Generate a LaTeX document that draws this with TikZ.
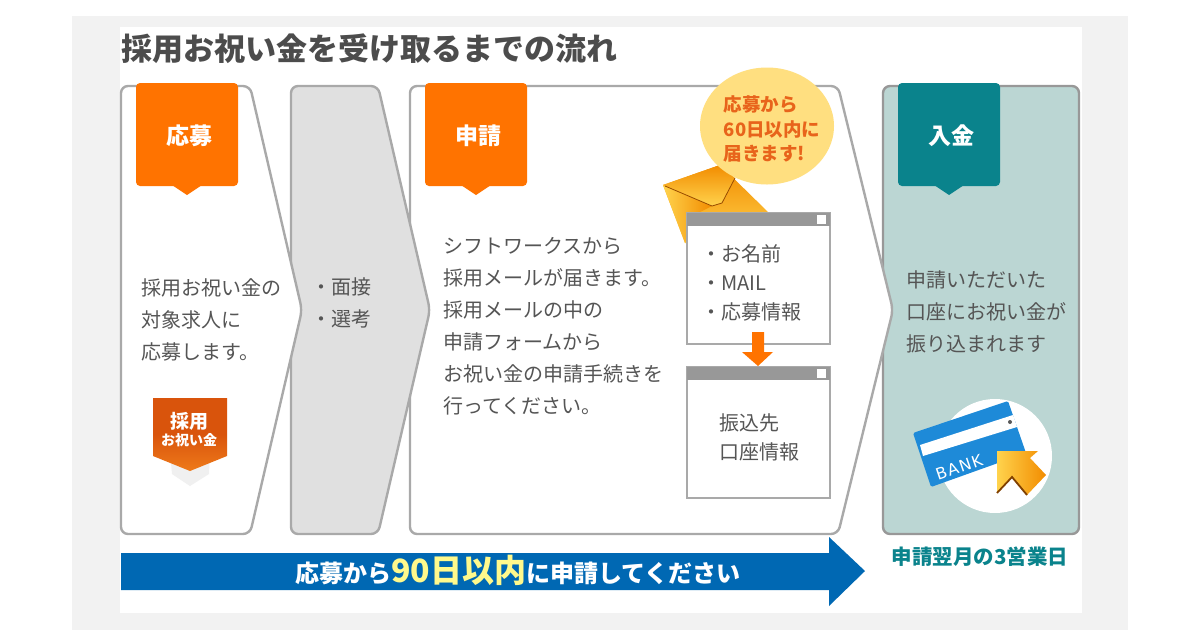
\documentclass[tikz,border=0pt]{standalone}
\usepackage{fontspec}
\usepackage{xcolor}
\setmainfont{Noto Sans CJK JP}
\newfontfamily\bankfont[LetterSpace=8]{DejaVu Sans}
\usetikzlibrary{shapes.geometric,arrows.meta,positioning,calc}
\definecolor{frameGray}{HTML}{A9A9A9}
\definecolor{panelGray}{HTML}{E0E0E0}
\definecolor{pageGray}{HTML}{F2F2F2}
\definecolor{textGray}{HTML}{555555}
\definecolor{tagOrange}{HTML}{FF7300}
\definecolor{tagTeal}{HTML}{0A838C}
\definecolor{panelTeal}{HTML}{BBD6D3}
\definecolor{bannerBlue}{HTML}{0068B3}
\definecolor{bubbleYellow}{HTML}{FFDF80}
\definecolor{bubbleText}{HTML}{E8641B}
\definecolor{cardBlue}{HTML}{1E8AD8}
\definecolor{badgeDark}{HTML}{D9540C}
\definecolor{badgeLight}{HTML}{EE7A1A}
\definecolor{goldLight}{HTML}{FFD34D}
\definecolor{goldDark}{HTML}{F28C00}

\begin{document}
\begin{tikzpicture}[
    x=1pt, y=-1pt,
    panel/.style={draw=frameGray, line width=2.4pt, rounded corners=7pt, line join=round},
    tag/.style={rounded corners=4pt},
    taglabel/.style={text=white, font=\bfseries\fontsize{23}{26}\selectfont},
    body/.style={text=textGray, anchor=west, align=left, inner sep=0pt, font=\fontsize{20}{32}\selectfont},
    window/.style={draw=frameGray, line width=1.5pt, fill=white},
    winbar/.style={fill=frameGray!90!black}
]
    % Page
    \useasboundingbox (0,0) rectangle (1200,630);
    \fill[white] (0,0) rectangle (1200,630);
    \fill[pageGray] (72,16) rectangle (1128,630);
    \fill[white] (120,27) rectangle (1082,613);

    % Title
    \node[anchor=west, inner sep=0pt, text=textGray!90!black, font=\bfseries\fontsize{31}{34}\selectfont] (title) at (121,49) {採用お祝い金を受け取るまでの流れ};

    % Panels
    \draw[panel, draw=frameGray!90!black, fill=panelTeal] (883,86) rectangle (1079,534);
    \draw[panel, fill=white] (410,86) -- (838,86) -- (893,310) -- (838,534) -- (410,534) -- cycle;
    \draw[panel, fill=panelGray] (291,86) -- (378,86) -- (430,310) -- (378,534) -- (291,534) -- cycle;
    \draw[panel, fill=white] (121,86) -- (250,86) -- (302,310) -- (250,534) -- (121,534) -- cycle;

    % Tags
    \fill[tagOrange, tag] (136,83) rectangle (238,186);
    \fill[tagOrange] (172,185) -- (187,195) -- (202,185) -- cycle;
    \node[taglabel] (apply) at (189,136) {応募};
    \fill[tagOrange, tag] (425,83) rectangle (527,186);
    \fill[tagOrange] (461,185) -- (476,195) -- (491,185) -- cycle;
    \node[taglabel] (request) at (478,136) {申請};
    \fill[tagTeal, tag] (898,83) rectangle (1000,186);
    \fill[tagTeal] (934,185) -- (949,195) -- (964,185) -- cycle;
    \node[taglabel] (deposit) at (951,136) {入金};

    % Texts
    \node[body] (applytext) at (141,320) {採用お祝い金の\\対象求人に\\応募します。};
    \node[body] (steps) at (311,303) {・面接\\・選考};
    \node[body] (requesttext) at (443,326) {シフトワークスから\\採用メールが届きます。\\採用メールの中の\\申請フォームから\\お祝い金の申請手続きを\\行ってください。};
    \node[body] (deposittext) at (906,312) {申請いただいた\\口座にお祝い金が\\振り込まれます};

    % Badge
    \fill[black!6] (170,452) -- (210,452) -- (209,474) -- (190,486) -- (172,474) -- cycle;
    \shade[top color=badgeDark, bottom color=badgeLight, middle color=badgeDark] (153,398) -- (227,398) -- (227,456) -- (190,471) -- (153,456) -- cycle;
    \node[text=white, align=center, inner sep=0pt, font=\bfseries\fontsize{19}{20}\selectfont] (badgetop) at (189,421) {採用};
    \node[text=white, inner sep=0pt, font=\bfseries\fontsize{14}{15}\selectfont] (badgebottom) at (189,440) {お祝い金};

    % Envelope
    \shade[top color=goldDark, bottom color=goldLight] (720,165) -- (768,212) -- (690,244) -- (685,243) -- (663,185) -- cycle;
    \shade[left color=goldLight, right color=goldDark] (663,185) -- (685,243) -- (700,212) -- (712,206) -- cycle;
    \shade[top color=goldDark, bottom color=goldLight] (663,185) -- (720,165) -- (735,178) -- (722,203) -- (712,206) -- cycle;
    \draw[orange!60!black, line width=0.8pt] (665,186) -- (712,206) -- (722,203) -- (735,178);

    % Bubble
    \node[ellipse, fill=bubbleYellow, minimum width=134pt, minimum height=117pt, inner sep=0pt] (bubble) at (767,126) {};
    \node[text=bubbleText, align=left, inner sep=0pt, font=\bfseries\fontsize{18.5}{24.5}\selectfont] (bubbletext) at (772,129) {応募から\\60日以内に\\届きます!};

    % Windows
    \draw[window] (687,213) rectangle (830,344);
    \fill[winbar] (687,213) rectangle (830,226);
    \fill[white] (817,215) rectangle (826,224);
    \node[body, font=\fontsize{20}{29}\selectfont] (fields) at (701,283) {・お名前\\・MAIL\\・応募情報};
    \draw[window] (687,367) rectangle (830,498);
    \fill[winbar] (687,367) rectangle (830,380);
    \fill[white] (817,369) rectangle (826,378);
    \node[body, font=\fontsize{20}{29}\selectfont] (account) at (719,437) {振込先\\口座情報};
    \fill[tagOrange] (752,332) -- (764,332) -- (764,352) -- (773,352) -- (758,366) -- (742,352) -- (752,352) -- cycle;

    % Bank card
    \fill[white] (995,456) circle (57);
    \fill[cardBlue, rounded corners=1.5pt] (913,433) -- (1008,401) -- (1026,453) -- (931,487) -- cycle;
    \fill[white] (920,445) -- (1013,415) -- (1017,427) -- (923,456) -- cycle;
    \fill[black!65] (1010,422) circle (2);
    \node[text=white, rotate=19, inner sep=0pt, font=\bankfont\fontsize{16}{17}\selectfont] (bank) at (959,467) {BANK};
    \shade[left color=goldLight, right color=goldDark] (997,451) -- (1038,451) -- (1030,458) -- (1046,475) -- (1027,495) -- (1012,477) -- (997,493) -- cycle;
    \draw[orange!50!black, line width=1.8pt] (997,493) -- (1012,477) -- (1027,495);

    % Banner
    \fill[bannerBlue] (121,553) -- (829,553) -- (829,537) -- (865,571) -- (829,606) -- (829,590) -- (121,590) -- cycle;
    \node[text=white, inner sep=0pt, font=\bfseries\fontsize{24}{26}\selectfont] (bannertext) at (518,570) {応募から{\fontsize{32}{32}\selectfont\color{yellow!45}90日以内}に申請してください};
    \node[text=tagTeal, inner sep=0pt, font=\bfseries\fontsize{20.5}{22}\selectfont] (payday) at (980,557) {申請翌月の3営業日};
\end{tikzpicture}
\end{document}
